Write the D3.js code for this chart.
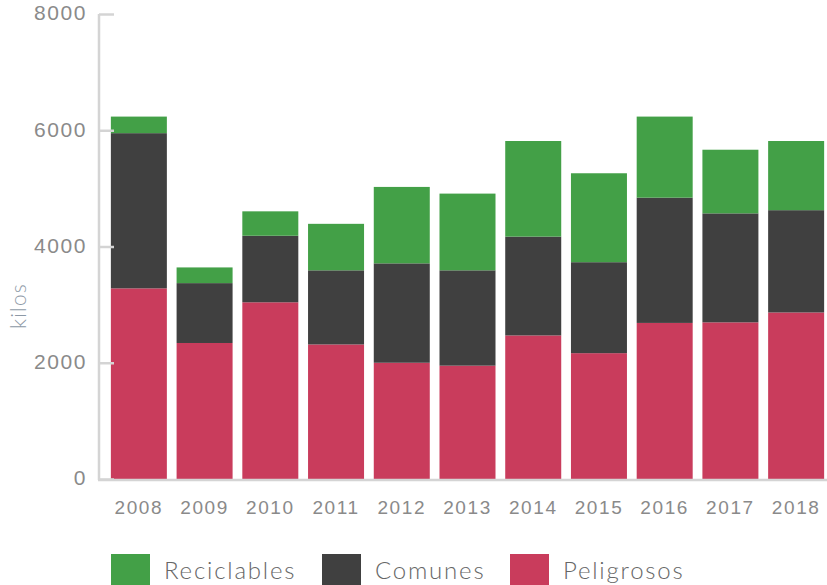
<!DOCTYPE html>
<html>
<head>
<meta charset="utf-8">
<script src="https://cdn.jsdelivr.net/npm/d3@7/dist/d3.min.js"></script>
<style>
  html, body { margin: 0; padding: 0; background: #fff; }
  svg { display: block; font-family: Lato, "Open Sans", sans-serif; }
</style>
</head>
<body>
<svg id="chart" width="827" height="585"></svg>
<script>
// Waste collected per year, in kilos
const years = ["2008", "2009", "2010", "2011", "2012", "2013", "2014", "2015", "2016", "2017", "2018"];
const peligrosos  = [3280, 2340, 3040, 2315, 2000, 1950, 2470, 2165, 2685, 2695, 2865];
const comunes     = [2670, 1030, 1145, 1275, 1710, 1640, 1700, 1565, 2155, 1875, 1760];
const reciclables = [ 285,  270,  420,  800, 1315, 1320, 1645, 1530, 1395, 1095, 1190];
const yTicks = [0, 2000, 4000, 6000, 8000];

const seriesNames = ["Peligrosos", "Comunes", "Reciclables"];
const colors = { Peligrosos: "#c93c5c", Comunes: "#404040", Reciclables: "#43a047" };
const legendOrder = ["Reciclables", "Comunes", "Peligrosos"];

const rows = years.map((y, i) => ({
  year: y,
  Peligrosos: peligrosos[i],
  Comunes: comunes[i],
  Reciclables: reciclables[i]
}));

const svg = d3.select("#chart");

const x = d3.scaleBand().domain(years).range([106, 829]).paddingInner(0.148).paddingOuter(0.074);
const y = d3.scaleLinear().domain([0, 8000]).range([479, 14]);

const stack = d3.stack().keys(seriesNames);
const layers = stack(rows);

// stacked bars
svg.append("g").selectAll("g")
  .data(layers)
  .join("g")
  .attr("fill", d => colors[d.key])
  .selectAll("rect")
  .data(d => d)
  .join("rect")
  .attr("x", d => x(d.data.year))
  .attr("width", x.bandwidth())
  .attr("y", d => y(d[1]))
  .attr("height", d => y(d[0]) - y(d[1]));

// y axis: light line with ticks pointing into the plot
const yAxis = svg.append("g")
  .attr("transform", "translate(99,0)")
  .call(d3.axisLeft(y).tickValues(yTicks).tickSize(-15).tickPadding(12).tickFormat(d3.format("d")));
yAxis.select(".domain").remove();
yAxis.selectAll(".tick line").attr("stroke", "#d4d4d4").attr("stroke-width", 2.5);
yAxis.selectAll(".tick text")
  .attr("fill", "#8a8a8a")
  .attr("font-size", 21)
  .attr("font-weight", 300)
  .attr("letter-spacing", 1.6)
  .attr("dy", "0.28em");

svg.append("line")
  .attr("x1", 99).attr("x2", 99)
  .attr("y1", y(8000)).attr("y2", y(0) + 1)
  .attr("stroke", "#d4d4d4").attr("stroke-width", 2.5);

// x axis baseline and year labels
svg.append("line")
  .attr("x1", 98).attr("x2", 827)
  .attr("y1", y(0) + 1).attr("y2", y(0) + 1)
  .attr("stroke", "#d4d4d4").attr("stroke-width", 2.5);

const xAxis = svg.append("g")
  .attr("transform", `translate(0,${y(0)})`)
  .call(d3.axisBottom(x).tickSize(0).tickPadding(22));
xAxis.select(".domain").remove();
xAxis.selectAll(".tick text")
  .attr("fill", "#8a8a8a")
  .attr("font-size", 19)
  .attr("font-weight", 300)
  .attr("letter-spacing", 1.6);

// y axis title
svg.append("text")
  .attr("transform", "translate(26,306) rotate(-90)")
  .attr("text-anchor", "middle")
  .attr("fill", "#8d99a6")
  .attr("font-size", 21)
  .attr("font-weight", 300)
  .attr("letter-spacing", 1.2)
  .text("kilos");

// legend
const legendX = { Reciclables: 111, Comunes: 322, Peligrosos: 510 };
const legend = svg.append("g").selectAll("g")
  .data(legendOrder)
  .join("g")
  .attr("transform", d => `translate(${legendX[d]},554)`);
legend.append("rect")
  .attr("width", 39).attr("height", 32)
  .attr("fill", d => colors[d]);
legend.append("text")
  .attr("x", 53).attr("y", 25)
  .attr("fill", "#666")
  .attr("font-size", 24)
  .attr("font-weight", 300)
  .attr("letter-spacing", 1.8)
  .text(d => d);
</script>
</body>
</html>
